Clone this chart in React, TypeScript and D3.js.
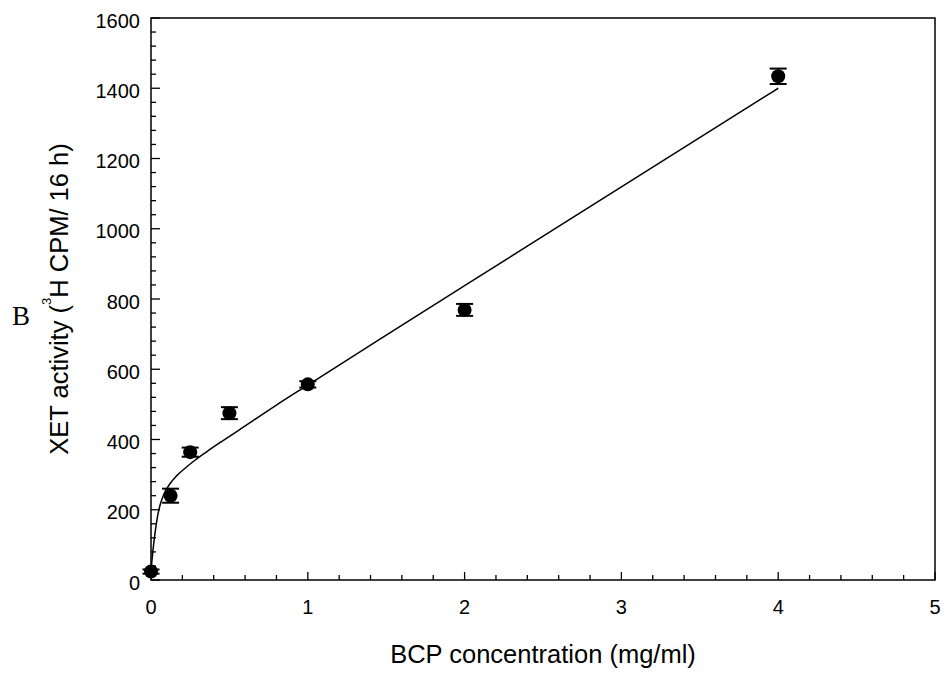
import React from "react";
import * as d3 from "d3";

// Data
const concentrations = [0, 0.125, 0.25, 0.5, 1, 2, 4];
const activity = [24, 240, 364, 475, 557, 769, 1434];
const errors = [6, 20, 13, 17, 9, 17, 22];

// Fitted curve
const curveX = [0, 0.005, 0.012, 0.026, 0.04, 0.057, 0.08, 0.121, 0.16, 0.206, 0.28, 0.355, 0.45, 0.568, 0.8, 1, 1.46, 2, 3, 4];
const curveY = [23, 50, 82, 135, 177, 212, 242, 274, 295, 314, 341, 365, 394, 429, 498, 555, 685.5, 838, 1119.5, 1400];

const xTickLabels = [0, 1, 2, 3, 4, 5];
const yTickLabels = [0, 200, 400, 600, 800, 1000, 1200, 1400, 1600];

const W = 945;
const H = 673;
const left = 151;
const right = 935;
const top = 18;
const bottom = 580;

export default function App() {
  const x = d3.scaleLinear().domain([0, 5]).range([left, right]);
  const y = d3.scaleLinear().domain([0, 1600]).range([bottom, top]);

  const line = d3
    .line<number>()
    .x((_, i) => x(curveX[i]))
    .y((d) => y(d))
    .curve(d3.curveMonotoneX);

  const xMinor = d3.range(0, 5.0001, 0.2);
  const yMinor = d3.range(0, 1600.001, 40);

  const font = "'Liberation Sans', Arial, Helvetica, sans-serif";

  return (
    <svg
      width={W}
      height={H}
      style={{ position: "absolute", left: 0, top: 0, background: "#fff" }}
    >
      <rect x={0} y={0} width={W} height={H} fill="#fff" />
      {/* frame */}
      <rect
        x={left}
        y={top}
        width={right - left}
        height={bottom - top}
        fill="none"
        stroke="#000"
        strokeWidth={1.5}
      />
      {/* x ticks */}
      {xMinor.map((v, i) => {
        const major = Math.abs(v - Math.round(v)) < 1e-6;
        return (
          <line
            key={"xt" + i}
            x1={x(v)}
            x2={x(v)}
            y1={bottom}
            y2={bottom - (major ? 8 : 5)}
            stroke="#000"
            strokeWidth={1.3}
          />
        );
      })}
      {/* y ticks */}
      {yMinor.map((v, i) => {
        const major = Math.abs(v / 200 - Math.round(v / 200)) < 1e-6;
        return (
          <line
            key={"yt" + i}
            x1={left}
            x2={left + (major ? 9 : 5)}
            y1={y(v)}
            y2={y(v)}
            stroke="#000"
            strokeWidth={1.3}
          />
        );
      })}
      {/* tick labels */}
      {xTickLabels.map((v) => (
        <text
          key={"xl" + v}
          x={x(v)}
          y={614}
          textAnchor="middle"
          fontFamily={font}
          fontSize={20}
          fill="#000"
        >
          {v}
        </text>
      ))}
      {yTickLabels.map((v) => (
        <text
          key={"yl" + v}
          x={140}
          y={y(v) + 9.5}
          textAnchor="end"
          fontFamily={font}
          fontSize={20}
          fill="#000"
        >
          {v}
        </text>
      ))}
      {/* axis titles */}
      <text
        x={(left + right) / 2}
        y={663}
        textAnchor="middle"
        fontFamily={font}
        fontSize={25.5}
        fill="#000"
      >
        BCP concentration (mg/ml)
      </text>
      <text
        transform={`translate(68, ${(top + bottom) / 2}) rotate(-90)`}
        textAnchor="middle"
        fontFamily={font}
        fontSize={25.5}
        fill="#000"
      >
        XET activity (
        <tspan fontSize={13} dy={-17}>
          3
        </tspan>
        <tspan dy={17}>H CPM/ 16 h)</tspan>
      </text>
      <text
        x={12}
        y={325}
        fontFamily="'Liberation Serif', 'Times New Roman', serif"
        fontSize={27}
        fill="#000"
      >
        B
      </text>
      {/* fitted curve */}
      <path d={line(curveY) || ""} fill="none" stroke="#000" strokeWidth={1.5} />
      {/* error bars and points */}
      {concentrations.map((c, i) => {
        const cx = x(c);
        const yt = y(activity[i] + errors[i]);
        const yb = y(activity[i] - errors[i]);
        return (
          <g key={"p" + i}>
            <line x1={cx} x2={cx} y1={yt} y2={yb} stroke="#000" strokeWidth={1.5} />
            <line x1={cx - 8.5} x2={cx + 8.5} y1={yt} y2={yt} stroke="#000" strokeWidth={2} />
            <line x1={cx - 8.5} x2={cx + 8.5} y1={yb} y2={yb} stroke="#000" strokeWidth={2} />
            <circle cx={cx} cy={y(activity[i])} r={7} fill="#000" />
          </g>
        );
      })}
    </svg>
  );
}
